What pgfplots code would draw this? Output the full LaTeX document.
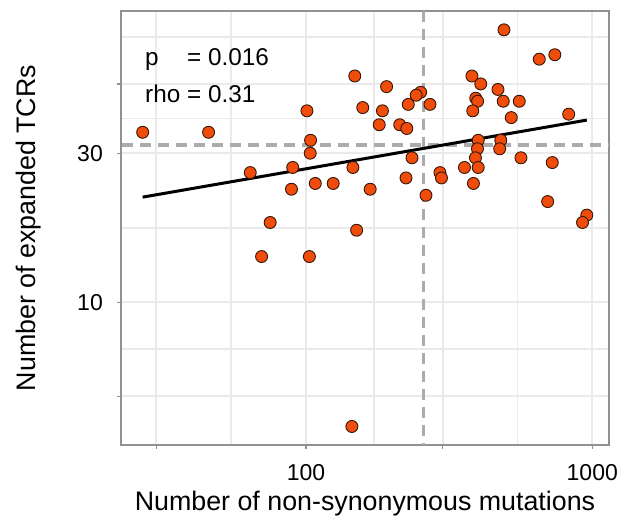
\documentclass[border=0pt]{standalone}
\usepackage{fontspec}
\setmainfont{Liberation Sans}
\usepackage{pgfplots}
\pgfplotsset{compat=1.18}
\definecolor{ptfill}{RGB}{240,76,12}
\definecolor{ptdraw}{RGB}{55,22,8}
\definecolor{framec}{RGB}{145,145,145}
\definecolor{gridc}{RGB}{234,234,234}
\definecolor{dashc}{RGB}{172,172,172}
\begin{document}
\begin{tikzpicture}[x=1pt,y=1pt]
\useasboundingbox (0,0) rectangle (619,518);
\begin{axis}[
  at={(121pt,73pt)}, anchor=south west,
  scale only axis, width=488pt, height=434pt,
  xmode=log, ymode=log,
  xmin=22.6, xmax=1144, ymin=3.49, ymax=85.6,
  xtick={30,100,300,1000}, xticklabels={,100,,1000},
  ytick={5,10,30,50}, yticklabels={,10,30,},
  minor xtick={54.77,173.2,547.7},
  minor ytick={7.071,17.32,38.73,70.71},
  grid=both,
  major grid style={gridc, line width=2pt},
  minor grid style={gridc, line width=1.6pt},
  axis line style={framec, line width=1.3pt},
  tick style={framec, line width=1.3pt},
  major tick length=4pt, minor tick length=0pt,
  tick align=outside,
  xtick pos=bottom, ytick pos=left,
  /pgf/number format/assume math mode=true,
  ticklabel style={font=\fontsize{23}{26}\selectfont, inner sep=0pt},
  xticklabel style={anchor=north, yshift=-15pt},
  yticklabel style={anchor=east, xshift=-14pt},
  xlabel={Number of non-synonymous mutations},
  ylabel={Number of expanded TCRs},
  label style={font=\fontsize{26.8}{30}\selectfont},
  xlabel style={at={(axis description cs:0.5,-0.1498)}, anchor=base, inner sep=0pt},
  ylabel style={at={(axis description cs:-0.1762,0.5)}, anchor=base, inner sep=0pt},
  clip=true,
]
\addplot[dashc, line width=3.3pt, dash pattern=on 11pt off 7pt] coordinates {(256.9,85.6) (256.9,3.49)};
\addplot[dashc, line width=3.3pt, dash pattern=on 11pt off 7pt] coordinates {(22.8,31.9) (1144,31.9)};
\addplot[only marks, mark=*, mark size=6pt, mark options={fill=ptfill, draw=ptdraw, line width=0.9pt}] table {
x y
26.9 35
45.7 35
100.8 41
103.8 33
103.5 30
63.9 26
89.9 27
107.8 24
89.0 23
75.0 18
70.0 14
102.8 14
491.5 74.5
653 60
740 62
148.1 53
191.3 49
251.5 47
242.6 46
227.7 43
271.1 43
157.9 42
185.0 41
180.3 37
212.6 37
225.0 36
379.9 53
407.8 50
468.4 48
391.7 45
397.7 44
488.7 44
555.9 44
382.4 41
521.3 39
827.2 40
399.6 33
479.1 33
397.2 31
474.9 31
234.6 29
390.8 29
563.6 29
725.0 28
145.9 27
357.8 27
399.6 27
293.8 26
297.4 25
223.6 25
124.5 24
384.6 24
167.6 23
262.5 22
698.6 21
956.8 19
924.4 18
150.3 17
144.7 4
};
\addplot[black, line width=3pt] coordinates {(26.9,21.7) (957,38.3)};
\node[anchor=base west, inner sep=0pt, font=\fontsize{24.3}{28}\selectfont] at (rel axis cs:0.0492,0.8733) {p\phantom{rh} = 0.016};
\node[anchor=base west, inner sep=0pt, font=\fontsize{24.3}{28}\selectfont] at (rel axis cs:0.0492,0.7887) {rho = 0.31};
\end{axis}
\end{tikzpicture}
\end{document}
